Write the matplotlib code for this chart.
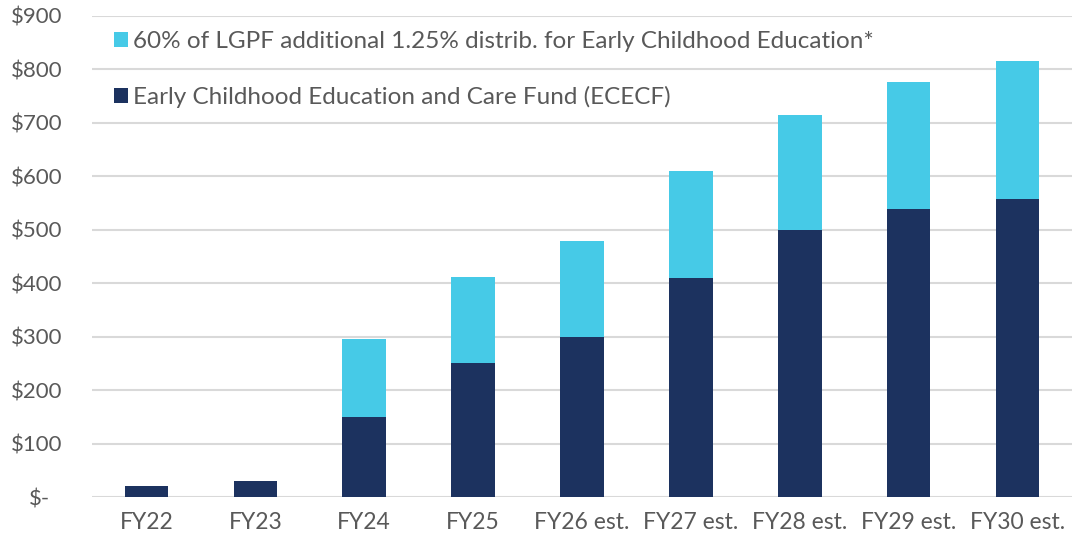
import matplotlib
matplotlib.use("Agg")
import matplotlib.pyplot as plt
import matplotlib.transforms as mtransforms
from matplotlib.patches import Patch

categories = ["FY22", "FY23", "FY24", "FY25", "FY26 est.", "FY27 est.",
              "FY28 est.", "FY29 est.", "FY30 est."]
ececf = [20, 30, 150, 250, 300, 410, 499, 538, 558]
lgpf = [0, 0, 145, 162, 178, 200, 215, 238, 258]
yticks = [0, 100, 200, 300, 400, 500, 600, 700, 800, 900]
ytick_labels = ["$-", "$100", "$200", "$300", "$400", "$500", "$600",
                "$700", "$800", "$900"]
label_lgpf = "60% of LGPF additional 1.25% distrib. for Early Childhood Education*"
label_ececf = "Early Childhood Education and Care Fund (ECECF)"

DARK = "#1C325F"
CYAN = "#46CAE7"
TXT = "#595959"
GRID = "#D9D9D9"

plt.rcParams["font.family"] = ["Lato", "DejaVu Sans"]

fig = plt.figure(figsize=(10.72, 5.38), dpi=100)
ax = fig.add_axes([92 / 1072, 1 - 497 / 538, 1 - 92 / 1072, (497 - 15.8) / 538])

x = list(range(len(categories)))
ax.bar(x, ececf, width=0.4, color=DARK, zorder=3)
ax.bar(x, lgpf, width=0.4, bottom=ececf, color=CYAN, zorder=3)

ax.set_xlim(-0.5, 8.5)
ax.set_ylim(0, 900)
ax.set_yticks(yticks)
ax.set_yticklabels(ytick_labels)
ax.set_xticks(x)
ax.set_xticklabels(categories)
ax.grid(axis="y", color=GRID, linewidth=1.5, zorder=0)
ax.set_axisbelow(True)
for s in ax.spines.values():
    s.set_visible(False)
ax.tick_params(axis="both", length=0, labelsize=16, colors=TXT)
ax.tick_params(axis="x", labelsize=16.5)
ax.tick_params(axis="y", pad=21)
ax.tick_params(axis="x", pad=11)

# shift "$-" label left like accounting format
lbl0 = ax.get_yticklabels()[0]
lbl0.set_transform(lbl0.get_transform() + mtransforms.ScaledTranslation(-13 / 100, 0, fig.dpi_scale_trans))

handles = [Patch(facecolor=CYAN, edgecolor="none", label=label_lgpf),
           Patch(facecolor=DARK, edgecolor="none", label=label_ececf)]
leg = ax.legend(handles=handles, loc="upper left",
                bbox_to_anchor=(97 / 1072, 1 - 14 / 538),
                bbox_transform=fig.transFigure,
                frameon=False, fontsize=17.5, handlelength=0.58, handleheight=0.58,
                handletextpad=0.2, labelspacing=1.38, borderpad=0.2,
                labelcolor=TXT)

fig.savefig("out.png", dpi=100)
